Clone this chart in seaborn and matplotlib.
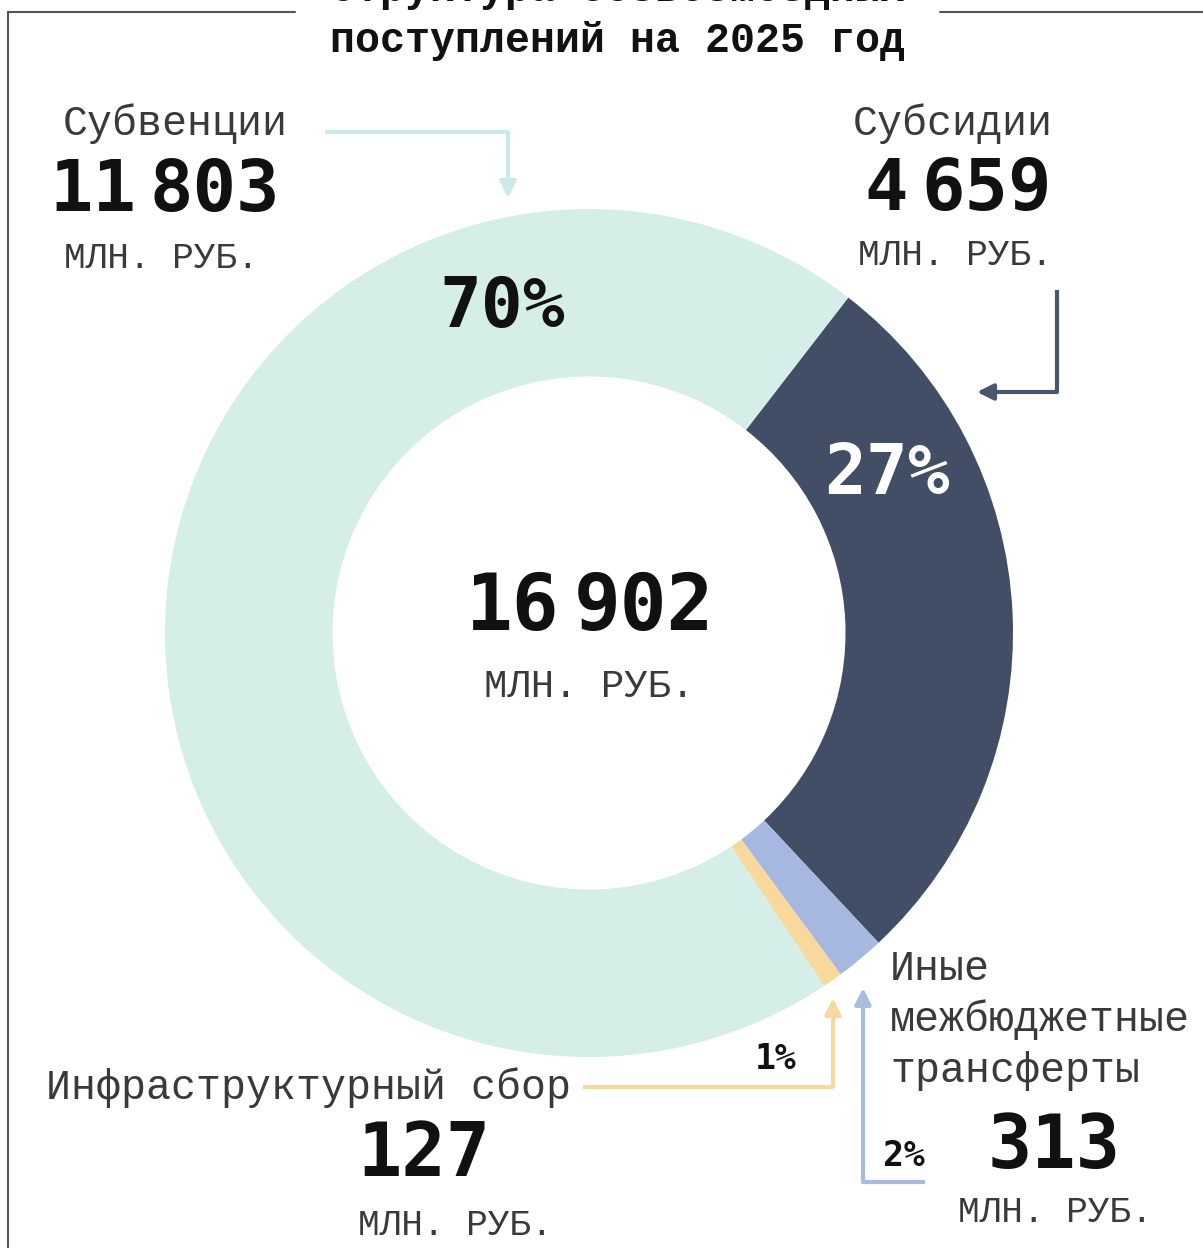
import matplotlib
matplotlib.use('Agg')
import matplotlib.pyplot as plt
import seaborn as sns
import numpy as np

# Данные
categories = ['Субсидии', 'Иные межбюджетные трансферты', 'Инфраструктурный сбор', 'Субвенции']
values = [4659, 313, 127, 11803]
value_labels = ['4 659', '313', '127', '11 803']
pct_labels = ['27%', '2%', '1%', '70%']
total_label = '16 902'
unit = 'МЛН. РУБ.'
colors = ['#414E66', '#A6B7E0', '#F9D99B', '#D5EEE8']
arrow_colors = ['#4A566B', '#A9BCE0', '#F6D9A0', '#CDEBE5']

sns.set_theme(style='white')
plt.rcParams['font.family'] = ['Liberation Mono', 'DejaVu Sans Mono']

W, H = 1203, 1248
fig = plt.figure(figsize=(W / 100, H / 100), dpi=100)
fig.patch.set_facecolor('white')

# Кольцевая диаграмма: центр (589, 633), радиус 424 px
cx, cy, r = 589, 633, 424
ax = fig.add_axes([(cx - r) / W, (H - cy - r) / H, 2 * r / W, 2 * r / H])
ax.pie(values, colors=colors, startangle=52.3, counterclock=False, radius=1,
       wedgeprops=dict(width=0.395, linewidth=0))
ax.set_xlim(-1, 1)
ax.set_ylim(-1, 1)
ax.set_aspect('equal')
ax.axis('off')

# Подписи процентов внутри кольца
mid_r = 0.795
for lab, ang, col in [(pct_labels[3], 105, '#111111'), (pct_labels[0], 28, 'white')]:
    a = np.deg2rad(ang)
    ax.text(mid_r * np.cos(a), mid_r * np.sin(a), lab, ha='center', va='center',
            fontsize=50, fontweight='bold', color=col, family='DejaVu Sans Mono')

# Слой поверх всей фигуры в пикселях
ov = fig.add_axes([0, 0, 1, 1])
ov.set_xlim(0, W)
ov.set_ylim(H, 0)
ov.axis('off')
ov.patch.set_alpha(0)

txt = '#3a3a3a'


def label(x, y, s, size=30, ha='center', weight='normal', color=txt):
    ov.text(x, y, s, ha=ha, va='baseline', fontsize=size, fontweight=weight, color=color)


def big_number(x, y, s, size=52, color='#111111'):
    cw = 0.602 * size * 100 / 72
    parts = s.split(' ')
    gap = 0.3 * cw if len(parts) > 1 else 0
    n = len(s.replace(' ', ''))
    left = x - (n * cw + gap) / 2
    for p in parts:
        ov.text(left, y, p, ha='left', va='baseline', fontsize=size, fontweight='bold',
                color=color, family='DejaVu Sans Mono')
        left += len(p) * cw + gap


def elbow_arrow(pts, color):
    xs, ys = zip(*pts[:-1])
    ov.plot(xs, ys, color=color, lw=3, solid_capstyle='butt', solid_joinstyle='miter')
    ov.annotate('', xy=pts[-1], xytext=pts[-2],
                arrowprops=dict(arrowstyle='-|>', color=color, lw=3, mutation_scale=24,
                                shrinkA=0, shrinkB=0))


# Рамка
ov.plot([8, 8], [12, H], color='#555555', lw=1.5)
ov.plot([8, 295], [12, 12], color='#555555', lw=1.5)
ov.plot([940, W], [12, 12], color='#555555', lw=1.5)

# Заголовок (первая строка срезана верхним краем, как в оригинале)
label(617, 1, 'Структура безвозмездных', size=30, weight='bold', color='#111111')
label(617, 52, 'поступлений на 2025 год', size=30, weight='bold', color='#111111')

# Субвенции
label(175, 135, categories[3])
big_number(165, 211, value_labels[3])
label(161, 268, unit, size=26)
elbow_arrow([(325, 132), (508, 132), (508, 198)], arrow_colors[3])

# Субсидии
label(953, 135, categories[0])
big_number(958, 210, value_labels[0])
label(955, 265, unit, size=26)
elbow_arrow([(1057, 290), (1057, 392), (977, 392)], arrow_colors[0])

# Центр
big_number(590, 630, total_label, size=56)
label(589, 697, unit, size=28)

# Иные межбюджетные трансферты
label(890, 980, 'Иные', ha='left')
label(890, 1031, 'межбюджетные', ha='left')
label(890, 1082, 'трансферты', ha='left')
big_number(904, 1166, pct_labels[1], size=25)
big_number(1054, 1168, value_labels[1], size=53)
label(1055, 1222, unit, size=26)
elbow_arrow([(925, 1182), (863, 1182), (863, 988)], arrow_colors[1])

# Инфраструктурный сбор
label(309, 1099, categories[2])
big_number(776, 1069, pct_labels[2], size=25)
big_number(424, 1176, value_labels[2], size=53)
label(455, 1235, unit, size=26)
elbow_arrow([(583, 1087), (833, 1087), (833, 998)], arrow_colors[2])

fig.savefig('out.png', dpi=100, facecolor='white')
